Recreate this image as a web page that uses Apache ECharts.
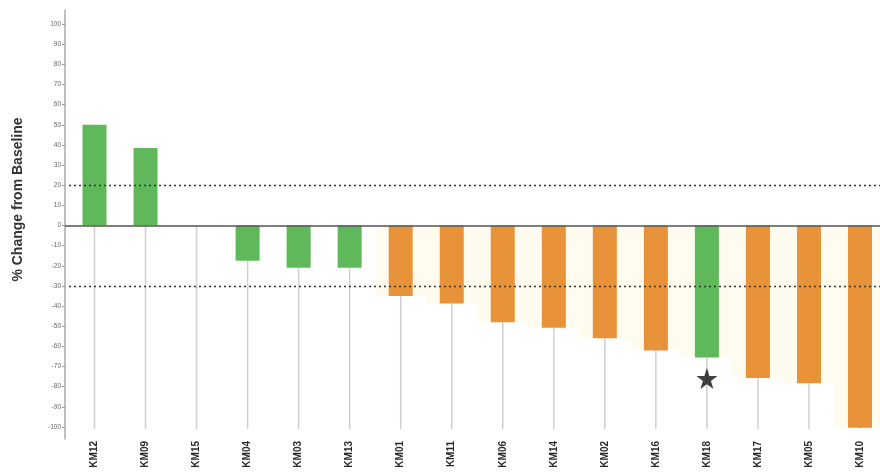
<!DOCTYPE html>
<html>
<head>
<meta charset="utf-8">
<script src="https://cdn.jsdelivr.net/npm/echarts@6/dist/echarts.min.js"></script>
<style>html,body{margin:0;padding:0;background:#fff}#c{width:880px;height:472px}</style>
</head>
<body>
<div id="c"></div>
<script>
const categories = ['KM12','KM09','KM15','KM04','KM03','KM13','KM01','KM11','KM06','KM14','KM02','KM16','KM18','KM17','KM05','KM10'];
const changes = [50, 38.5, 0, -17.5, -21, -21, -35, -38.7, -48, -50.8, -56, -62, -65.5, -75.7, -78.3, -100.4];
const groups = ['G','G','G','G','G','G','O','O','O','O','O','O','G','O','O','O'];
const starPoints = [[12, -76]];
const refLines = [20, -30];
const yTicks = [100,90,80,70,60,50,40,30,20,10,0,-10,-20,-30,-40,-50,-60,-70,-80,-90,-100];

const GREEN = '#5fb95a', ORANGE = '#e8923a';
const chart = echarts.init(document.getElementById('c'));
const STAR = 'path://M50,0 L61.8,35.3 L99,35.3 L68.9,57.1 L80.4,92.7 L50,70.9 L19.6,92.7 L31.1,57.1 L1,35.3 L38.2,35.3 Z';

const cream = changes.map((v, i) => (i >= 6 ? v : '-'));
const X0 = 65, X1 = 880;

chart.setOption({
  animation: false,
  grid: { left: 94.5, top: 10, right: 20, height: 429 },
  xAxis: [
    { type: 'category', data: categories, position: 'bottom', boundaryGap: false,
      axisLine: { show: false, onZero: false }, axisTick: { show: false },
      axisLabel: { rotate: 90, margin: 2, fontSize: 10, fontWeight: 'bold', color: '#2a2a2a', fontFamily: 'Liberation Sans', interval: 0 } },
    { type: 'category', data: categories, show: false, boundaryGap: false }
  ],
  yAxis: {
    type: 'value', min: -106, max: 107, offset: 29.5,
    name: '% Change from Baseline', nameLocation: 'middle', nameGap: 40, nameRotate: 90,
    nameTextStyle: { fontSize: 14, fontWeight: 'bold', color: '#333', fontFamily: 'Liberation Sans', padding: [0, 0, 0, 50] },
    axisLine: { show: true, lineStyle: { color: '#aaa', width: 1.5 } },
    axisTick: { show: true, length: 3, customValues: yTicks, lineStyle: { color: '#999' } },
    axisLabel: { customValues: yTicks, fontSize: 6.5, color: '#666', margin: 4 },
    splitLine: { show: false }
  },
  series: [
    { type: 'bar', xAxisIndex: 1, data: cream, barWidth: '100%', silent: true, clip: false,
      itemStyle: { color: '#fffbee' }, z: 1 },
    { type: 'custom', xAxisIndex: 0, z: 2, silent: true, clip: false,
      renderItem: function (params, api) {
        const i = api.value(0), v = api.value(1);
        const p1 = api.coord([i, Math.min(v, 0)]);
        const p2 = api.coord([i, -101]);
        return { type: 'line', shape: { x1: p1[0], y1: p1[1], x2: p2[0], y2: p2[1] },
          style: { stroke: '#cfcfcf', lineWidth: 1.5 } };
      },
      data: changes.map((v, i) => [i, v]) },
    { type: 'bar', xAxisIndex: 0, barWidth: 24, z: 3, clip: false,
      data: changes.map((v, i) => ({ value: v, itemStyle: { color: groups[i] === 'G' ? GREEN : ORANGE } })),
      markLine: { silent: true, symbol: 'none', label: { show: false },
        data: [
          [{ x: X0, yAxis: 0, lineStyle: { color: '#555', width: 1.5, type: 'solid' } }, { x: X1, yAxis: 0 }],
          ...refLines.map(r => [{ x: X0 + 4, yAxis: r, lineStyle: { color: '#333', width: 1.3, type: [2, 3] } }, { x: X1, yAxis: r }])
        ] } },
    { type: 'scatter', xAxisIndex: 0, symbol: STAR, symbolSize: 21, z: 5,
      itemStyle: { color: '#111' }, data: starPoints }
  ]
});
</script>
</body>
</html>
